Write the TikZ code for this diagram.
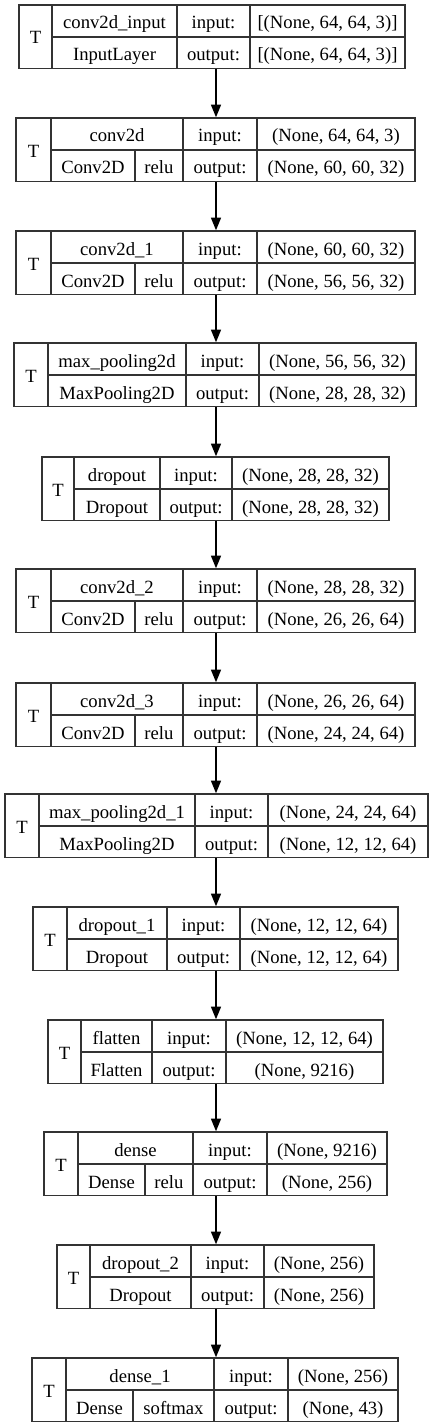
\documentclass[tikz,border=0pt]{standalone}
\usepackage{fontspec}
\setmainfont{Liberation Serif}
\usetikzlibrary{arrows.meta,fit}

\begin{document}
\begin{tikzpicture}[x=0.75pt,y=-0.75pt,
	font=\fontsize{14}{16}\selectfont,
	box/.style={draw=black!80,line width=1.1pt,inner sep=0pt},
	cell/.style={draw=black!80,line width=1.1pt},
	txt/.style={anchor=base,inner sep=0pt},
	flow/.style={line width=1.1pt,-{Triangle[length=9.5pt,width=7.5pt]}}]

	\useasboundingbox (0,0) rectangle (431,1427);
	\coordinate (axis) at (216,0);

	% id / top / left / T / name / split / input / right / texts
	\foreach \id/\yt/\xl/\xt/\xn/\xs/\xi/\xr/\nm/\cl/\act/\sin/\sout in {
		input/5/19/52/177/0/250/405/conv2d\_input/InputLayer/{}/{[(None, 64, 64, 3)]}/{[(None, 64, 64, 3)]},
		conv1/118/16/51/183/135/257/415/conv2d/Conv2D/relu/{(None, 64, 64, 3)}/{(None, 60, 60, 32)},
		conv2/231/16/51/183/135/257/415/conv2d\_1/Conv2D/relu/{(None, 60, 60, 32)}/{(None, 56, 56, 32)},
		pool1/343/14/48/186/0/259/416/max\_pooling2d/MaxPooling2D/{}/{(None, 56, 56, 32)}/{(None, 28, 28, 32)},
		drop1/457/42/74/160/0/232/389/dropout/Dropout/{}/{(None, 28, 28, 32)}/{(None, 28, 28, 32)},
		conv3/569/16/51/183/135/257/415/conv2d\_2/Conv2D/relu/{(None, 28, 28, 32)}/{(None, 26, 26, 64)},
		conv4/683/16/51/183/135/257/415/conv2d\_3/Conv2D/relu/{(None, 26, 26, 64)}/{(None, 24, 24, 64)},
		pool2/794/5/39/195/0/268/428/max\_pooling2d\_1/MaxPooling2D/{}/{(None, 24, 24, 64)}/{(None, 12, 12, 64)},
		drop2/907/33/67/167/0/240/398/dropout\_1/Dropout/{}/{(None, 12, 12, 64)}/{(None, 12, 12, 64)},
		flat/1020/48/81/152/0/226/383/flatten/Flatten/{}/{(None, 12, 12, 64)}/{(None, 9216)},
		dense1/1132/44/78/193/145/267/387/dense/Dense/relu/{(None, 9216)}/{(None, 256)},
		drop3/1245/57/90/191/0/264/374/dropout\_2/Dropout/{}/{(None, 256)}/{(None, 256)},
		dense2/1358/32/66/214/133/288/398/dense\_1/Dense/softmax/{(None, 256)}/{(None, 43)}}{
		\pgfmathsetmacro{\ym}{\yt+32}
		\pgfmathsetmacro{\yb}{\yt+63.5}

		\node[box,fit={(\xl,\yt) (\xr,\yb)}] (\id) {};
		\draw[cell] (\xt,\yt) -- (\xt,\yb);
		\draw[cell] (\xn,\yt) -- (\xn,\yb);
		\draw[cell] (\xi,\yt) -- (\xi,\yb);
		\draw[cell] (\xt,\ym) -- (\xr,\ym);

		\node[txt] (\id-t) at ({(\xl+\xt)/2},{\yt+39}) {T};
		\node[txt] (\id-nm) at ({(\xt+\xn)/2},{\yt+24}) {\nm};
		\ifnum\xs=0
			\node[txt] (\id-cl) at ({(\xt+\xn)/2},{\yt+56}) {\cl};
		\else
			\draw[cell] (\xs,\ym) -- (\xs,\yb);
			\node[txt] (\id-cl) at ({(\xt+\xs)/2},{\yt+56}) {\cl};
			\node[txt] (\id-act) at ({(\xs+\xn)/2},{\yt+56}) {\act};
		\fi
		\node[txt] (\id-in) at ({(\xn+\xi)/2},{\yt+24}) {input:};
		\node[txt] (\id-out) at ({(\xn+\xi)/2},{\yt+56}) {output:};
		\node[txt] (\id-sin) at ({(\xi+\xr)/2},{\yt+24}) {\sin};
		\node[txt] (\id-sout) at ({(\xi+\xr)/2},{\yt+56}) {\sout};
	}

	\foreach \a/\b in {input/conv1,conv1/conv2,conv2/pool1,pool1/drop1,drop1/conv3,
		conv3/conv4,conv4/pool2,pool2/drop2,drop2/flat,flat/dense1,dense1/drop3,drop3/dense2}
		\draw[flow] (\a.south -| axis) -- (\b.north -| axis);

\end{tikzpicture}
\end{document}
